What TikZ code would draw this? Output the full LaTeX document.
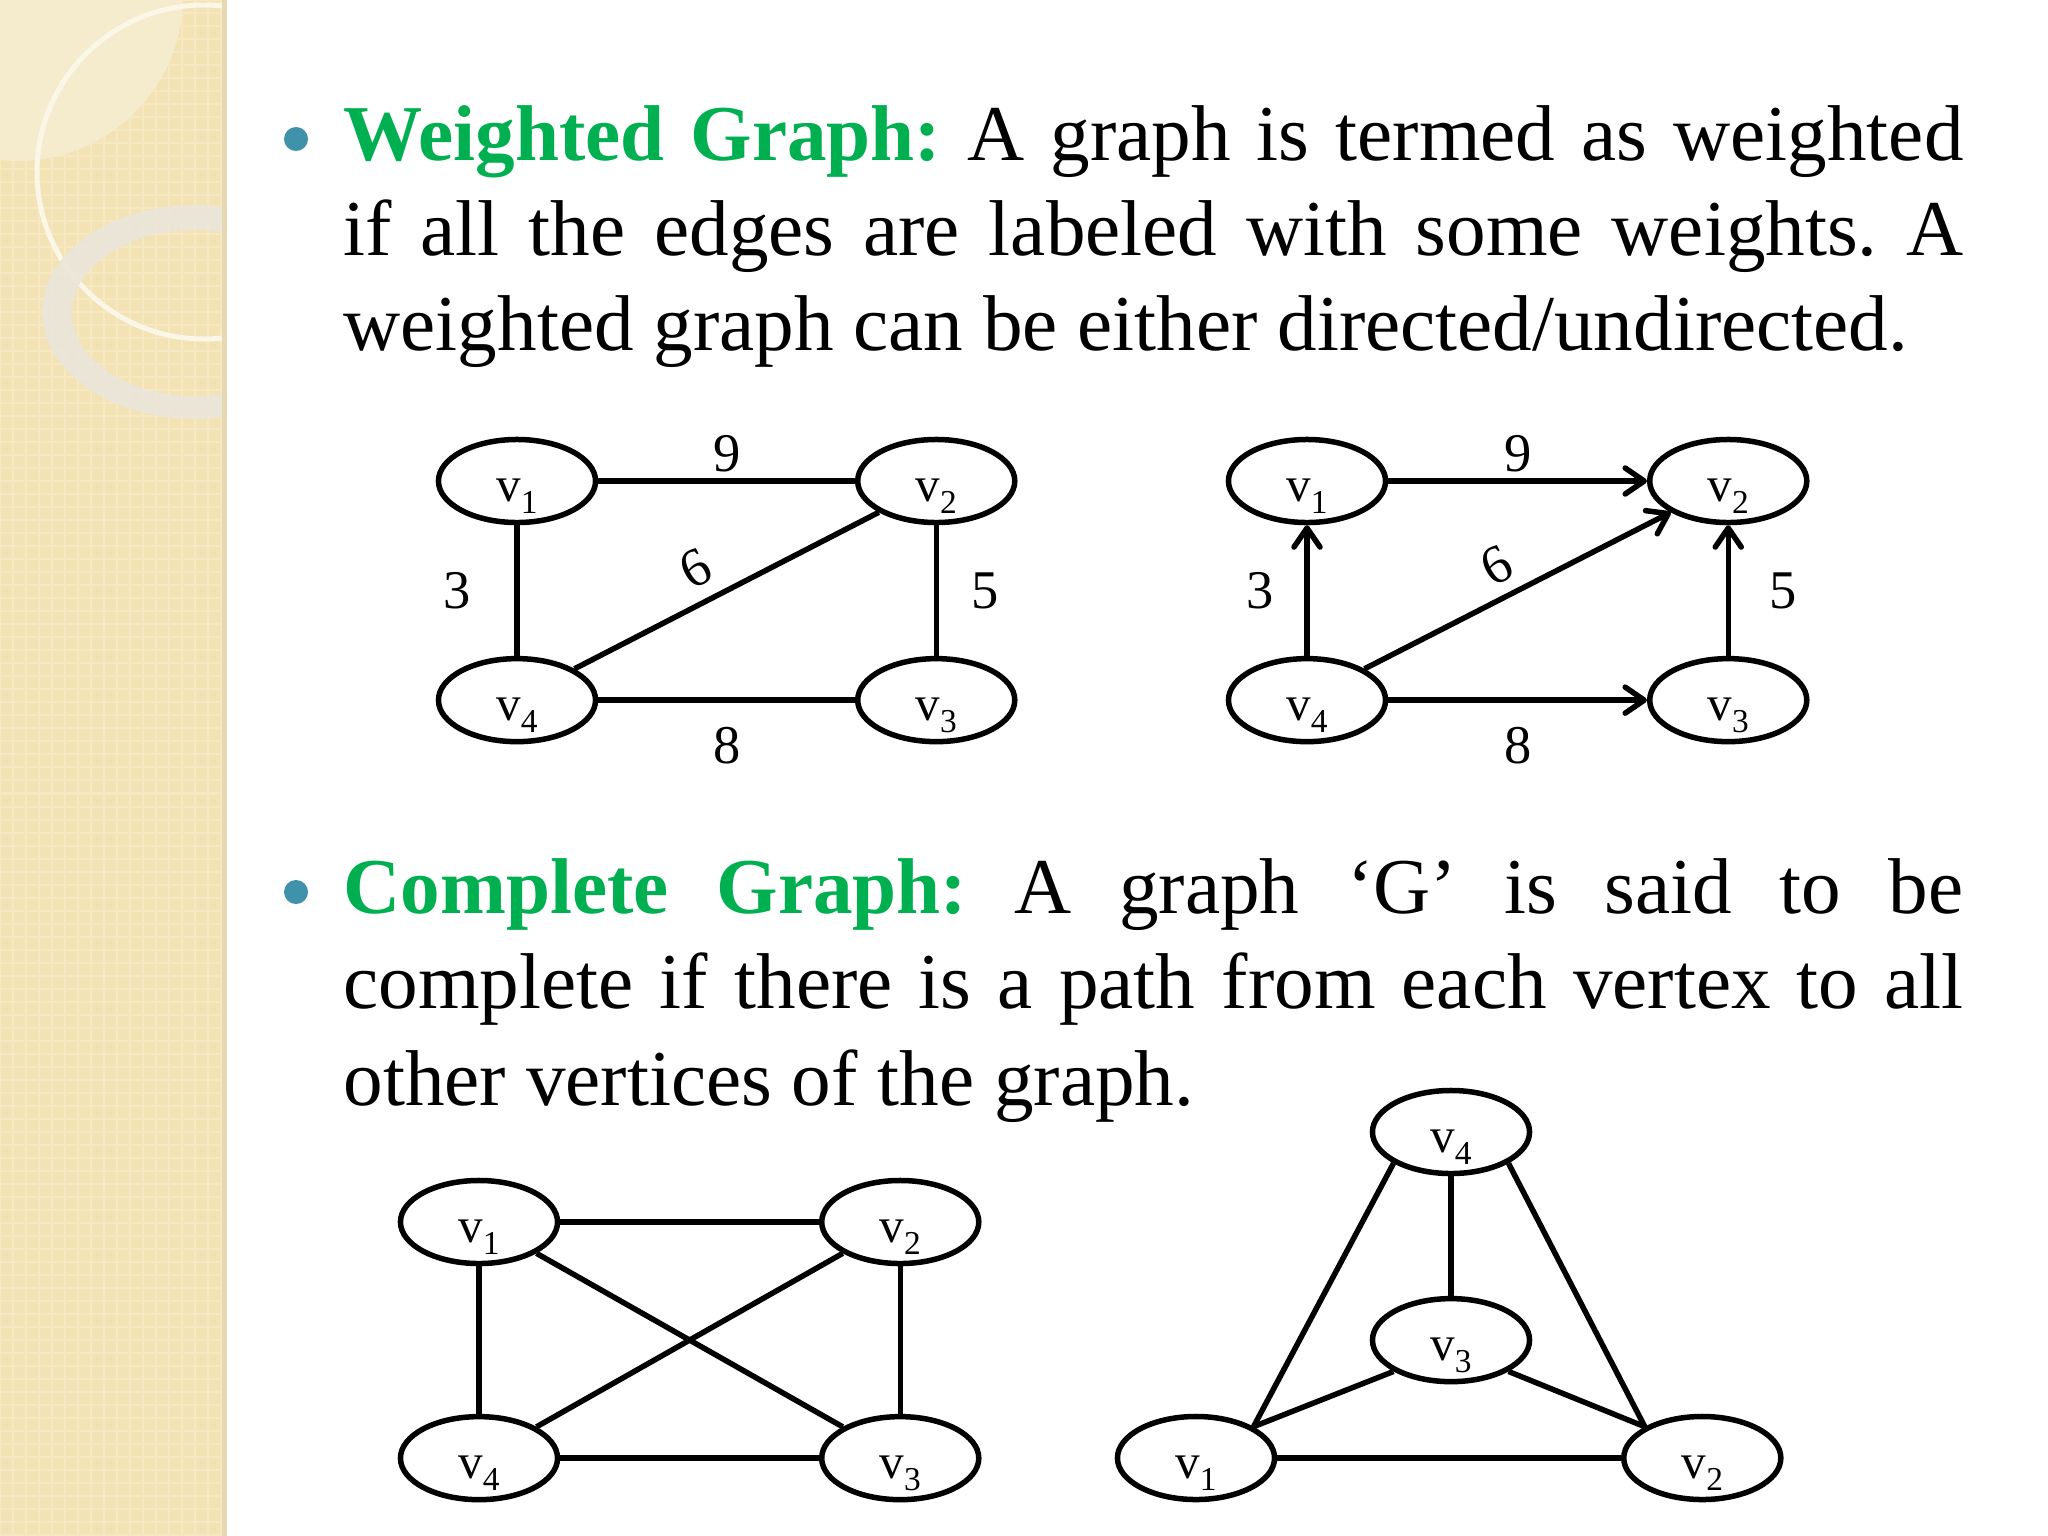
\documentclass[tikz,border=0pt]{standalone}
\usepackage{fontspec}
\setmainfont{Liberation Serif}
\usetikzlibrary{arrows.meta, positioning, shapes.geometric}
\definecolor{titleGreen}{RGB}{0,176,80}
\definecolor{bulletTeal}{RGB}{64,145,170}
\definecolor{stripBeige}{RGB}{242,226,180}
\definecolor{stripGrid}{RGB}{245,232,194}
\definecolor{stripLight}{RGB}{246,238,212}
\definecolor{stripEdge}{RGB}{230,217,178}
\definecolor{ringWhite}{RGB}{251,247,232}
\definecolor{ringGray}{RGB}{234,230,218}
\newlength\lineW
\setlength\lineW{16.19cm}
\newcommand\vsub[1]{v\raisebox{-0.12cm}{\fontsize{9.5pt}{9.5pt}\selectfont #1}}
\frenchspacing
\tikzset{
  vtxNode/.style   = {ellipse, draw, line width=0.055cm, fill=white, inner sep=0pt,
                      minimum width=1.57cm, minimum height=0.83cm, on grid,
                      text height=0.40cm, text depth=0pt,
                      font=\fontsize{14pt}{14pt}\selectfont},
  gEdge/.style     = {line width=0.055cm},
  dEdge/.style     = {gEdge, -{Straight Barb[length=0.19cm, width=0.26cm, round]}},
  wLbl/.style      = {inner sep=0pt, font=\fontsize{15.5pt}{15.5pt}\selectfont},
  txtLine/.style   = {anchor=base west, inner sep=0pt,
                      font=\fontsize{22.5pt}{27pt}\selectfont},
  bulletDot/.style = {circle, fill=bulletTeal, minimum size=0.24cm, inner sep=0pt},
}

\begin{document}
\begin{tikzpicture}[x=0.01cm, y=-0.01cm]
  \useasboundingbox[fill=white] (0,0) rectangle (2048,1536);
  % side strip
  \begin{scope}
    \clip (0,0) rectangle (227,1536);
    \fill[stripBeige] (0,0) rectangle (227,1536);
    \draw[stripGrid, line width=0.02cm, step=0.13cm] (0,0) grid (227,1536);
    \fill[stripLight, opacity=0.8] (18,-4) circle[radius=165];
    \draw[ringWhite, line width=0.05cm] (204,172) circle[radius=167];
    \fill[ringGray, opacity=0.9, even odd rule] (195,312) ellipse[x radius=153, y radius=107]
      (195,313) ellipse[x radius=123, y radius=83];
    \fill[stripEdge] (222,0) rectangle (227,1536);
  \end{scope}

  % weighted graph text
  \node[bulletDot] (b1) at (296,139) {};
  \node[txtLine] (w1) at (343,160) {\hbox to \lineW{\textcolor{titleGreen}{\bfseries Weighted Graph:} A graph is termed as weighted}};
  \node[txtLine] (w2) at (343,255) {\hbox to \lineW{if all the edges are labeled with some weights. A}};
  \node[txtLine] (w3) at (343,350) {weighted graph can be either directed/undirected.};

  % undirected weighted
  \node[vtxNode] (a1) at (517,481) {\vsub{1}};
  \node[vtxNode, right=4.19cm of a1] (a2) {\vsub{2}};
  \node[vtxNode, below=2.19cm of a1] (a4) {\vsub{4}};
  \node[vtxNode, below=2.19cm of a2] (a3) {\vsub{3}};
  \draw[gEdge] (a1) -- node[wLbl, above=0.06cm]{9} (a2);
  \draw[gEdge] (a4) -- node[wLbl, below=0.24cm]{8} (a3);
  \draw[gEdge] (a1) -- node[wLbl, left=0.43cm]{3} (a4);
  \draw[gEdge] (a2) -- node[wLbl, right=0.32cm]{5} (a3);
  \draw[gEdge] (a4.north east) -- node[wLbl, pos=0.45, sloped, above=0.13cm]{6} (a2.south west);

  % directed weighted
  \node[vtxNode] (d1) at (1307,481) {\vsub{1}};
  \node[vtxNode, right=4.21cm of d1] (d2) {\vsub{2}};
  \node[vtxNode, below=2.19cm of d1] (d4) {\vsub{4}};
  \node[vtxNode, below=2.19cm of d2] (d3) {\vsub{3}};
  \draw[dEdge] (d1) -- node[wLbl, above=0.06cm]{9} (d2);
  \draw[dEdge] (d4) -- node[wLbl, below=0.24cm]{8} (d3);
  \draw[dEdge] (d4) -- node[wLbl, left=0.30cm]{3} (d1);
  \draw[dEdge] (d3) -- node[wLbl, right=0.38cm]{5} (d2);
  \draw[dEdge] (d4.north east) -- node[wLbl, pos=0.48, sloped, above=0.11cm]{6} (d2.south west);

  % complete graph text
  \node[bulletDot] (b2) at (296,892) {};
  \node[txtLine] (c1) at (343,913) {\hbox to \lineW{\textcolor{titleGreen}{\bfseries Complete Graph:} A graph ‘G’ is said to be}};
  \node[txtLine] (c2) at (343,1008) {\hbox to \lineW{complete if there is a path from each vertex to all}};
  \node[txtLine] (c3) at (343,1105) {other vertices of the graph.};

  % complete, square layout
  \node[vtxNode] (k1) at (479,1222) {\vsub{1}};
  \node[vtxNode, right=4.21cm of k1] (k2) {\vsub{2}};
  \node[vtxNode, below=2.36cm of k1] (k4) {\vsub{4}};
  \node[vtxNode, below=2.36cm of k2] (k3) {\vsub{3}};
  \draw[gEdge] (k1) -- (k2);
  \draw[gEdge] (k4) -- (k3);
  \draw[gEdge] (k1) -- (k4);
  \draw[gEdge] (k2) -- (k3);
  \draw[gEdge] (k1.south east) -- (k3.north west);
  \draw[gEdge] (k2.south west) -- (k4.north east);

  % complete, triangle layout
  \node[vtxNode] (t4) at (1451,1132) {\vsub{4}};
  \node[vtxNode, below=2.08cm of t4] (t3) {\vsub{3}};
  \node[vtxNode] (t1) at (1196,1458) {\vsub{1}};
  \node[vtxNode, right=5.06cm of t1] (t2) {\vsub{2}};
  \draw[gEdge] (t4) -- (t3);
  \draw[gEdge] (t4.south west) -- (t1.north east);
  \draw[gEdge] (t4.south east) -- (t2.north west);
  \draw[gEdge] (t3.south west) -- (t1.north east);
  \draw[gEdge] (t3.south east) -- (t2.north west);
  \draw[gEdge] (t1) -- (t2);
\end{tikzpicture}
\end{document}
